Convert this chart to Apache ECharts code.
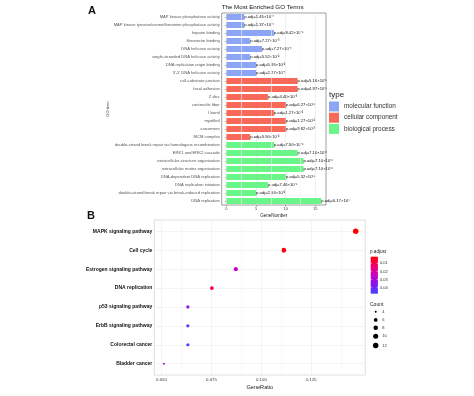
<!DOCTYPE html>
<html><head><meta charset="utf-8">
<script src="https://cdn.jsdelivr.net/npm/echarts@6/dist/echarts.min.js"></script>
<style>html,body{margin:0;padding:0;background:#fff}#c{width:474px;height:396px}</style>
</head><body><div id="c"></div>
<script>
// ---------- Panel A data ----------
const goTerms = [
  'MAP kinase phosphatase activity',
  'MAP kinase tyrosine/serine/threonine phosphatase activity',
  'heparin binding',
  'fibronectin binding',
  'DNA helicase activity',
  'single-stranded DNA helicase activity',
  'DNA replication origin binding',
  "3'-5' DNA helicase activity",
  'cell-substrate junction',
  'focal adhesion',
  'Z disc',
  'contractile fiber',
  'I band',
  'myofibril',
  'sarcomere',
  'MCM complex',
  'double-strand break repair via homologous recombination',
  'ERK1 and ERK2 cascade',
  'extracellular structure organization',
  'extracellular matrix organization',
  'DNA-dependent DNA replication',
  'DNA replication initiation',
  'double-strand break repair via break-induced replication',
  'DNA replication'
];
const goType = [0,0,0,0,0,0,0,0, 1,1,1,1,1,1,1,1, 2,2,2,2,2,2,2,2];
const goCounts = [3,3,8,4,6,4,5,5, 12,12,7,10,8,10,10,4, 8,12,13,13,10,7,5,16];
const goPadj = [
  '1.45×10⁻⁴','1.37×10⁻⁴','9.42×10⁻⁵','7.27×10⁻³','7.27×10⁻⁴','5.52×10⁻²','5.95×10⁻²','2.27×10⁻⁴',
  '5.16×10⁻⁵','4.97×10⁻⁵','4.40×10⁻³','6.27×10⁻⁵','1.27×10⁻²','1.27×10⁻²','9.82×10⁻³','5.50×10⁻²',
  '7.50×10⁻⁶','7.10×10⁻⁶','7.10×10⁻⁶','7.10×10⁻⁶','5.32×10⁻⁸','7.46×10⁻⁵','2.66×10⁻²','6.17×10⁻⁷'
];
const typeNames = ['molecular function','cellular component','biological process'];
const typeColors = ['#8CA5F5','#F8695A','#69F587'];
const goTicks = [0,5,10,15];
const goMinorTicks = [2.5,7.5,12.5];

// ---------- Panel B data ----------
const keggTerms = ['MAPK signaling pathway','Cell cycle','Estrogen signaling pathway','DNA replication',
  'p53 signaling pathway','ErbB signaling pathway','Colorectal cancer','Bladder cancer'];
const keggRatio = [0.1472,0.1112,0.0872,0.0752,0.0632,0.0632,0.0632,0.0512];
const keggCount = [12,9,7,6,5,5,5,4];
const keggPadj = [0.0018,0.0035,0.026,0.008,0.036,0.045,0.0475,0.036];
const ratioTicks = [0.050,0.075,0.100,0.125];
const ratioMinorTicks = [0.0625,0.0875,0.1125,0.1375];
const padjTicks = [0.01,0.02,0.03,0.04];
const countLegend = [4,6,8,10,12];
const padjColors = ['#FF0000','#F20068','#C800C8','#8414F0','#4444FF'];

// ---------- derived ----------
const goMax = Math.max(...goCounts);
const rMin = Math.min(...keggRatio), rMax = Math.max(...keggRatio);
const rPad = (rMax - rMin) * 0.05;
const pMin = Math.min(...keggPadj), pMax = Math.max(...keggPadj);
const cMin = Math.min(...keggCount), cMax = Math.max(...keggCount);
const dotSize = c => 2 + 3.5 * Math.sqrt((c - cMin) / (cMax - cMin));

const FONT = 'Liberation Sans, Arial, sans-serif';

const goSeries = typeNames.map((name, t) => ({
  name, type: 'bar', stack: 'go', xAxisIndex: 0, yAxisIndex: 0,
  barWidth: 6,
  itemStyle: { color: typeColors[t] },
  label: {
    show: true, position: 'right', distance: 0, fontSize: 4.2, color: '#111', fontFamily: FONT,
    formatter: p => 'p.adj=' + goPadj[p.dataIndex]
  },
  markLine: t === 0 ? {
    silent: true, symbol: 'none', label: { show: false },
    lineStyle: { color: '#f3f3f3', width: 0.6, type: 'solid' },
    data: goMinorTicks.map(v => ({ xAxis: v }))
  } : undefined,
  z: 3,
  data: goCounts.map((c, i) => goType[i] === t ? c : '-')
}));

// colorbar geometry (legend)
const cbX = 370.7, cbY = 256.7, cbW = 7.2, cbH = 37;
const padjToY = v => cbY + (v - pMin) / (pMax - pMin) * cbH;
const countY = [311.8, 319.9, 327.8, 336.3, 345.6];

const graphics = [
  { type: 'text', left: 88, top: 5, style: { text: 'A', fill: '#111', font: 'bold 11px ' + FONT } },
  { type: 'text', left: 87, top: 210, style: { text: 'B', fill: '#111', font: 'bold 11px ' + FONT } },
  { type: 'text', left: 329, top: 90.5, style: { text: 'type', font: '8px ' + FONT, fill: '#222' } },
  { type: 'text', left: 370, top: 249, style: { text: 'p.adjust', font: '4.6px ' + FONT, fill: '#222' } },
  { type: 'rect', shape: { x: cbX, y: cbY, width: cbW, height: cbH },
    style: { fill: new echarts.graphic.LinearGradient(0, 0, 0, 1,
      padjColors.map((c, i) => ({ offset: i / (padjColors.length - 1), color: c }))) } },
  { type: 'text', left: 370, top: 302, style: { text: 'Count', font: '5px ' + FONT, fill: '#222' } }
];
padjTicks.forEach(v => {
  const y = padjToY(v);
  graphics.push({ type: 'line', shape: { x1: cbX, y1: y, x2: cbX + 1.3, y2: y }, style: { stroke: '#fff', lineWidth: 0.5 } });
  graphics.push({ type: 'line', shape: { x1: cbX + cbW - 1.3, y1: y, x2: cbX + cbW, y2: y }, style: { stroke: '#fff', lineWidth: 0.5 } });
  graphics.push({ type: 'text', x: 380, y: y, style: { text: v.toFixed(2), font: '4px ' + FONT, fill: '#333', verticalAlign: 'middle' } });
});
countLegend.forEach((c, i) => {
  graphics.push({ type: 'circle', shape: { cx: 375.7, cy: countY[i], r: dotSize(c) / 2 }, style: { fill: '#000' } });
  graphics.push({ type: 'text', x: 382.3, y: countY[i], style: { text: String(c), font: '4px ' + FONT, fill: '#333', verticalAlign: 'middle' } });
});

const option = {
  animation: false,
  backgroundColor: '#fff',
  textStyle: { fontFamily: FONT },
  title: [{
    text: 'The Most Enriched GO Terms', left: 221.7, top: 4, padding: 0,
    textStyle: { fontSize: 6.2, fontWeight: 'normal', color: '#111', fontFamily: FONT }
  }],
  legend: {
    data: typeNames, orient: 'vertical', left: 329, top: 101.5,
    itemWidth: 10, itemHeight: 10, itemGap: 1.2, icon: 'rect', padding: 0,
    textStyle: { fontSize: 6.4, color: '#333', fontFamily: FONT }
  },
  visualMap: {
    show: false, type: 'continuous', seriesIndex: 3, dimension: 3,
    min: pMin, max: pMax, inRange: { color: padjColors }
  },
  grid: [
    { left: 221.7, top: 13, width: 104.3, height: 192, show: true, borderColor: '#777', borderWidth: 0.7, outerBoundsMode: 'none' },
    { left: 154.3, top: 220, width: 211, height: 155, show: true, borderColor: '#d8d8d8', borderWidth: 0.8, outerBoundsMode: 'none' }
  ],
  xAxis: [
    {
      gridIndex: 0, type: 'value', min: -0.05 * goMax, max: goMax * 1.05,
      name: 'GeneNumber', nameLocation: 'middle', nameGap: 8,
      nameTextStyle: { fontSize: 4.5, color: '#222', fontFamily: FONT },
      axisLine: { show: false },
      axisTick: { show: true, customValues: goTicks, length: 1.5, lineStyle: { color: '#444', width: 0.5 } },
      axisLabel: { customValues: goTicks, fontSize: 4, color: '#444', margin: 2 },
      splitLine: { show: true, lineStyle: { color: '#e8e8e8', width: 0.6 } }
    },
    {
      gridIndex: 1, type: 'value', min: rMin - rPad, max: rMax + rPad,
      name: 'GeneRatio', nameLocation: 'middle', nameGap: 9.5,
      nameTextStyle: { fontSize: 5.6, color: '#222', fontFamily: FONT },
      axisLine: { show: false },
      axisTick: { show: false, customValues: ratioTicks },
      axisLabel: { customValues: ratioTicks, fontSize: 4.3, color: '#333', margin: 3, formatter: v => v.toFixed(3) },
      splitLine: { show: true, lineStyle: { color: '#ececec', width: 0.6 } }
    }
  ],
  yAxis: [
    {
      gridIndex: 0, type: 'category', data: goTerms, inverse: true,
      name: 'GO term', nameLocation: 'middle', nameGap: 112, nameRotate: 90,
      nameTextStyle: { fontSize: 4, color: '#333', fontFamily: FONT },
      axisLine: { show: false },
      axisTick: { show: true, alignWithLabel: true, length: 1.5, lineStyle: { color: '#555', width: 0.5 } },
      axisLabel: { fontSize: 4.1, color: '#555', margin: 2, interval: 0 },
      splitLine: { show: false }
    },
    {
      gridIndex: 1, type: 'value', inverse: true, min: -0.6, max: keggTerms.length - 0.4,
      axisLine: { show: false },
      axisTick: { show: false, customValues: keggTerms.map((t, i) => i) },
      axisLabel: { customValues: keggTerms.map((t, i) => i), fontSize: 5, fontWeight: 'bold', color: '#111', margin: 2,
        formatter: v => keggTerms[Math.round(v)] },
      splitLine: { show: true, lineStyle: { color: '#ececec', width: 0.6 } }
    }
  ],
  series: [
    ...goSeries,
    {
      name: 'KEGG', type: 'scatter', xAxisIndex: 1, yAxisIndex: 1,
      symbolSize: v => dotSize(v[2]),
      itemStyle: { opacity: 1 },
      markLine: {
        silent: true, symbol: 'none', label: { show: false },
        lineStyle: { color: '#f5f5f5', width: 0.6, type: 'solid' },
        data: ratioMinorTicks.map(v => ({ xAxis: v }))
      },
      z: 3,
      data: keggTerms.map((t, i) => [keggRatio[i], i, keggCount[i], keggPadj[i]])
    }
  ],
  graphic: graphics
};

const chart = echarts.init(document.getElementById('c'), null, { renderer: 'canvas' });
chart.setOption(option);
</script>
</body></html>
